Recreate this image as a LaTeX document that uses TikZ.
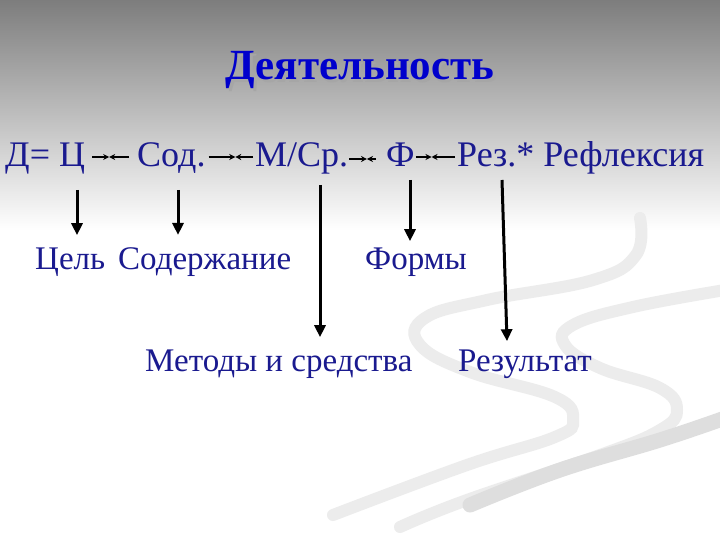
\documentclass[tikz,border=0pt]{standalone}
\usepackage{fontspec}
\setmainfont{Liberation Serif}
\usetikzlibrary{arrows.meta,calc}
\definecolor{txt}{HTML}{1A1A8F}
\definecolor{ttl}{HTML}{0000CC}
\definecolor{swirl}{HTML}{ECECEC}
\definecolor{swirldk}{HTML}{DEDEDE}
\begin{document}
\begin{tikzpicture}[x=1pt,y=-1pt,
  lab/.style={inner sep=0pt, anchor=base west, text=txt, font=\fontsize{36}{40}\selectfont},
  lab2/.style={inner sep=0pt, anchor=base west, text=txt, font=\fontsize{33}{36}\selectfont},
  ttlstyle/.style={inner sep=0pt, anchor=base, font=\bfseries\fontsize{43}{46}\selectfont},
  vert/.style={line width=3pt, -{Triangle[width=11pt,length=12pt]}},
  meet/.style={line width=1.1pt, -{Stealth[width=6pt,length=6pt]}},
  band/.style={line width=12pt, color=swirl, line cap=round}
]
\useasboundingbox (0,0) rectangle (720,540);
\fill[white] (0,0) rectangle (720,540);
\shade[top color={rgb,255:red,125;green,125;blue,125}, middle color={rgb,255:red,188;green,188;blue,188}, bottom color=white] (0,0) rectangle (720,230);
% decorative swirls
\draw[band] plot[smooth, tension=0.7] coordinates {(640,218) (636,255) (593,280) (487,300) (425,318) (420,345) (470,372) (555,397) (573,420) (555,437) (467,465) (333,515)};
\draw[band] plot[smooth, tension=0.7] coordinates {(725,290) (633,307) (573,325) (565,345) (600,368) (660,388) (677,410) (660,430) (600,455) (467,500) (400,527)};
\draw[line width=15pt, color=swirldk, line cap=round] plot[smooth, tension=0.7] coordinates {(725,418) (660,440) (560,470) (470,505)};
% title
\node[ttlstyle, text=gray!70] at (362.5,82.5) {Деятельность};
\node[ttlstyle, text=ttl] (t) at (360,80) {Деятельность};
% top row
\node[lab] (d) at (5,167) {Д= Ц};
\node[lab] (s) at (137,167) {Сод.};
\node[lab] (m) at (255,167) {М/Ср.};
\node[lab] (f) at (386,167) {Ф};
\node[lab] (r) at (457,167) {Рез.* Рефлексия};
% meeting arrows
\coordinate (a1) at ([xshift=7pt,yshift=10pt]d.base east);
\coordinate (b1) at ([xshift=-8pt,yshift=10pt]s.base west);
\coordinate (c1) at ($(a1)!0.46!(b1)$);
\draw[meet] (a1) -- (c1); \draw[meet] (b1) -- (c1);
\coordinate (a2) at ([xshift=3pt,yshift=10pt]s.base east);
\coordinate (b2) at ([xshift=-2pt,yshift=10pt]m.base west);
\coordinate (c2) at ($(a2)!0.6!(b2)$);
\draw[meet] (a2) -- (c2); \draw[meet] (b2) -- (c2);
\coordinate (a3) at ([xshift=1pt,yshift=8pt]m.base east);
\coordinate (b3) at ([xshift=-10pt,yshift=8pt]f.base west);
\coordinate (c3) at ($(a3)!0.66!(b3)$);
\draw[meet] (a3) -- (c3); \draw[meet] (b3) -- (c3);
\coordinate (a4) at ([xshift=1pt,yshift=10pt]f.base east);
\coordinate (b4) at ([xshift=-2pt,yshift=10pt]r.base west);
\coordinate (c4) at ($(a4)!0.4!(b4)$);
\draw[meet] (a4) -- (c4); \draw[meet] (b4) -- (c4);
% bottom labels
\node[lab2] (cel) at (35,269) {Цель};
\node[lab2] (sod) at (118,269) {Содержание};
\node[lab2] (form) at (365,269) {Формы};
\node[lab2] (met) at (145,371) {Методы и средства};
\node[lab2] (res) at (458,371) {Результат};
% vertical arrows
\coordinate (v1) at (77,190);
\coordinate (v2) at (178,190);
\coordinate (v3) at (320,185);
\coordinate (v4) at (410,180);
\coordinate (v5) at (502,180);
\draw[vert] (v1) -- ($(v1 |- cel.north)+(0,-12)$);
\draw[vert] (v2) -- ($(v2 |- sod.north)+(0,-12)$);
\draw[vert] (v3) -- ($(v3 |- met.north)+(0,-12)$);
\draw[vert] (v4) -- ($(v4 |- form.north)+(0,-6)$);
\draw[vert] (v5) -- ($(v5 |- res.north)+(5,-8)$);
\end{tikzpicture}
\end{document}
